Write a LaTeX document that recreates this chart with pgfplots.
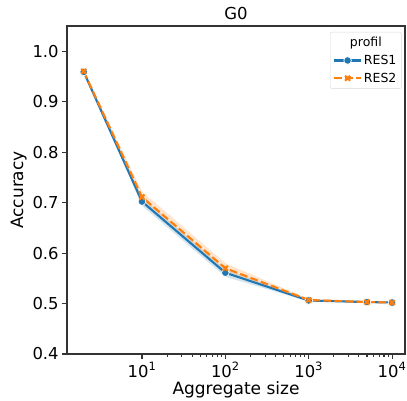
\documentclass[border=0pt]{standalone}
\usepackage{fontspec}
\setmainfont{DejaVu Sans}
\usepackage{pgfplots}
\pgfplotsset{compat=1.18}
\usepgfplotslibrary{fillbetween}
\definecolor{c1}{HTML}{1F77B4}
\definecolor{c2}{HTML}{FF7F0E}
\begin{document}
\begin{tikzpicture}
\begin{axis}[
  at={(0,0)}, anchor=south west,
  scale only axis, width=338bp, height=328bp,
  xmode=log, xmin=1.26, xmax=14300,
  ymin=0.4, ymax=1.05,
  axis line style={line width=1.1bp, black!80},
  tick align=outside, tick style={line width=1.1bp, black!80},
  major tick length=4.9bp, minor tick length=2.8bp,
  xtick={10,100,1000,10000},
  xticklabels={10\textsuperscript{1},10\textsuperscript{2},10\textsuperscript{3},10\textsuperscript{4}},
  ytick={0.4,0.5,0.6,0.7,0.8,0.9,1.0},
  yticklabel style={/pgf/number format/.cd, fixed, fixed zerofill, precision=1, assume math mode=true},
  ticklabel style={font=\fontsize{16.4bp}{19bp}\selectfont},
  xtick pos=bottom, ytick pos=left,
  xlabel={Aggregate size}, ylabel={Accuracy},
  label style={font=\fontsize{17bp}{20bp}\selectfont},
  xlabel style={yshift=3bp},
  ylabel style={yshift=-1bp},
  title={G0}, title style={font=\fontsize{16.5bp}{19bp}\selectfont, yshift=-3bp},
  legend style={at={(0.99,0.982)}, anchor=north east, draw=black!15, rounded corners=2bp,
    font=\fontsize{12.5bp}{15bp}\selectfont, row sep=3bp, inner sep=3bp},
  legend cell align=left,
  legend image code/.code={\draw[mark repeat=2,mark phase=2] plot coordinates {(0cm,0cm)(0.47cm,0cm)(0.94cm,0cm)};},
  clip=false,
]
% bands
\addplot[name path=u1, draw=none, forget plot] coordinates {(2,0.961)(10,0.710)(100,0.568)(1000,0.508)(5000,0.504)(10000,0.503)};
\addplot[name path=l1, draw=none, forget plot] coordinates {(2,0.957)(10,0.694)(100,0.553)(1000,0.504)(5000,0.502)(10000,0.501)};
\addplot[c1, fill opacity=0.2, draw=none, forget plot] fill between[of=u1 and l1];
\addplot[name path=u2, draw=none, forget plot] coordinates {(2,0.962)(10,0.722)(100,0.580)(1000,0.509)(5000,0.505)(10000,0.504)};
\addplot[name path=l2, draw=none, forget plot] coordinates {(2,0.958)(10,0.702)(100,0.561)(1000,0.505)(5000,0.502)(10000,0.501)};
\addplot[c2, fill opacity=0.2, draw=none, forget plot] fill between[of=u2 and l2];
\addlegendimage{empty legend}
\addlegendentry{\hspace*{-14bp}profil}
\addplot[c1, line width=2.1bp, mark=*, mark size=3.8bp, mark options={solid, fill=c1, draw=white, line width=0.7bp}]
 coordinates {(2,0.959)(10,0.702)(100,0.561)(1000,0.506)(5000,0.503)(10000,0.502)};
\addlegendentry{RES1}
\addplot[c2, line width=2.1bp, dash pattern=on 7.7bp off 3.3bp, mark=x, mark size=3.5bp, mark options={solid, line width=2.2bp}]
 coordinates {(2,0.960)(10,0.711)(100,0.570)(1000,0.507)(5000,0.503)(10000,0.502)};
\addlegendentry{RES2}
\end{axis}
\pgfresetboundingbox
\path[use as bounding box] (-67bp,-47bp) rectangle (340bp,354bp);
\end{tikzpicture}
\end{document}
